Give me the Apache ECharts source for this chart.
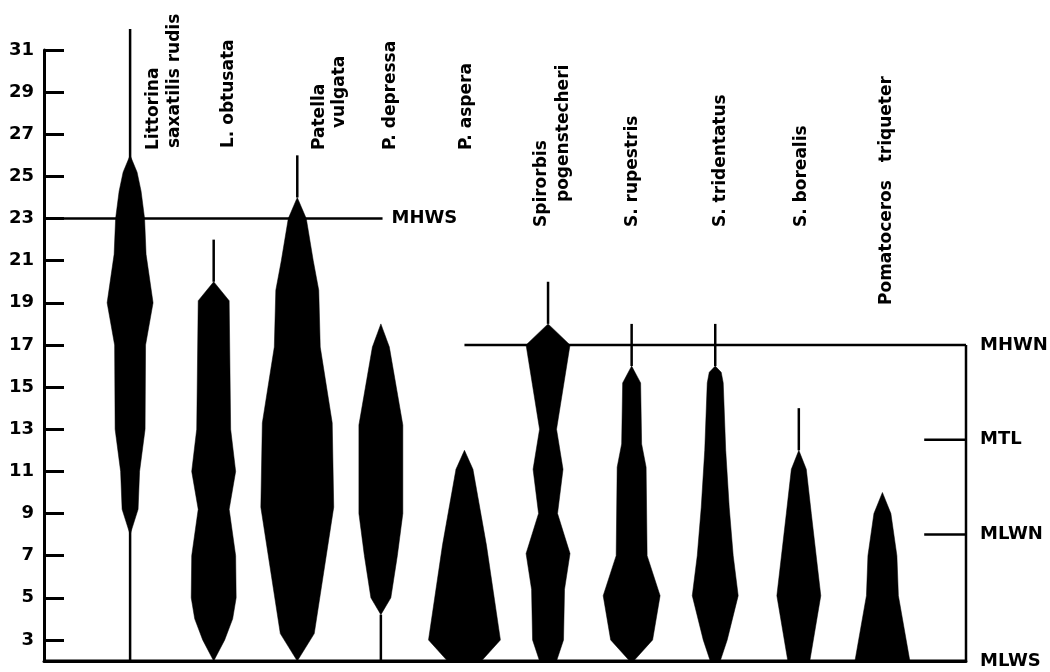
<!DOCTYPE html>
<html><head><meta charset="utf-8">
<script src="https://cdn.jsdelivr.net/npm/echarts@6/dist/echarts.min.js"></script>
<style>html,body{margin:0;padding:0;background:#fff}#c{width:1050px;height:672px}</style>
</head><body><div id="c"></div>
<script>
// Species (left to right)
const species = ['Littorina saxatilis rudis','L. obtusata','Patella vulgata','P. depressa','P. aspera',
  'Spirorbis pogenstecheri','S. rupestris','S. tridentatus','S. borealis','Pomatoceros triqueter'];
// Kite profiles: [tidal level, half-width of kite]
const littorina   = [[8,0],[9.2,8],[11,9.5],[13,15],[17,15.5],[19,23],[21.3,16],[23,14.5],[24.3,11],[25.2,7],[26,0]];
const obtusata    = [[2,0],[3,11],[4,19],[5,22.5],[7,22],[9.2,15.5],[11,22],[13,17],[19.1,15.5],[20,0]];
const patella     = [[2,0],[3.3,17],[9.3,36.5],[13.3,35],[16.9,23],[19.6,21.5],[21,16],[23,9],[24,0]];
const depressa    = [[4.2,0],[5,10],[7,16.5],[9,22],[13.2,22],[16.9,8.5],[18,0]];
const aspera      = [[2,17],[3,36],[7.5,22],[11.1,8.5],[12,0]];
const spirorbis   = [[2,8.5],[3,15.5],[5.4,16.5],[7.1,22],[9,9.5],[11.1,15],[13,8.5],[17,22],[18,0]];
const rupestris   = [[2,2],[3,21],[5.1,28.5],[7,15.5],[11.2,14.5],[12.3,10],[15.2,9],[16,0]];
const tridentatus = [[2,5],[3,12],[5.1,23],[7,18],[9.3,14],[12,10.5],[15.2,8],[15.7,6],[16,0]];
const borealis    = [[2,11],[5.1,22],[9,12.5],[11.1,7.5],[12,0]];
const pomatoceros = [[2,27.5],[5.1,16],[7,14.5],[9,8.5],[10,0]];
const profiles = [littorina, obtusata, patella, depressa, aspera, spirorbis, rupestris, tridentatus, borealis, pomatoceros];
// Vertical range lines (stems): [from level, to level]
const stems = [[2,32],[20,22],[24,26],[2,4.2],null,[18,20],[16,18],[16,18],[12,14],null];
// Tick labels on the level axis
const yTicks = [3,5,7,9,11,13,15,17,19,21,23,25,27,29,31];
// Tide levels
const tideNames  = ['MHWS','MHWN','MTL','MLWN','MLWS'];
const tideLevels = [23,17,12.5,8,2];

// ---- layout / style ----
const XMIN = -1.03, XMAX = 10;
const widthScale = 1/83.7;
const tideSpans = [[XMIN,3.02],[4.0,XMAX],[9.5,XMAX],[9.5,XMAX],[XMIN,XMAX]];
const labelLines = [['Littorina','saxatilis rudis'],['L. obtusata'],['Patella','vulgata'],['P. depressa'],['P. aspera'],
  ['Spirorbis','pogenstecheri'],['S. rupestris'],['S. tridentatus'],['S. borealis'],['Pomatoceros   triqueter']];
const labelLayout = [[[23,150],[44,148]],[[15,148]],[[22,150],[42,128]],[[10,150]],[[2,150]],
  [[-6,227],[16,202]],[[1,227]],[[5,227]],[[3,227]],[[4,305]]];
const FONT = 'DejaVu Sans';

const chart = echarts.init(document.getElementById('c'), null, {renderer:'canvas'});

function renderKite(params, api){
  const i = api.value(0);
  const prof = profiles[i];
  const children = [];
  const st = stems[i];
  if (st){
    const a = api.coord([i, st[0]]), b = api.coord([i, st[1]]);
    children.push({type:'line', shape:{x1:a[0],y1:a[1],x2:b[0],y2:b[1]}, style:{stroke:'#000', lineWidth:2.5}});
  }
  const pts = [];
  for (let k=0;k<prof.length;k++){ pts.push(api.coord([i + prof[k][1]*widthScale, prof[k][0]])); }
  for (let k=prof.length-1;k>=0;k--){ pts.push(api.coord([i - prof[k][1]*widthScale, prof[k][0]])); }
  children.push({type:'polygon', shape:{points:pts}, style:{fill:'#000', stroke:'#000', lineWidth:0.5}});
  return {type:'group', children};
}

const series = [];
tideNames.forEach((n, k) => {
  series.push({
    type:'line', name:n, data:[[tideSpans[k][0], tideLevels[k]],[tideSpans[k][1], tideLevels[k]]],
    symbol:'none', silent:true, z:2,
    lineStyle:{color:'#000', width: k===4 ? 3 : 2.5},
    endLabel:{show:true, formatter:n, distance: k===0 ? 9 : 14, color:'#000', fontFamily:FONT, fontWeight:'bold', fontSize:18}
  });
});
// right frame line
series.push({type:'line', data:[[XMAX,2],[XMAX,tideLevels[1]]], symbol:'none', silent:true, lineStyle:{color:'#000', width:2.5}});
series.push({type:'custom', coordinateSystem:'cartesian2d', data: species.map((s,i)=>[i,0]), encode:{x:0,y:1},
  clip:false, renderItem: renderKite, z:3, silent:true});

chart.setOption({
  animation:false,
  backgroundColor:'#fff',
  grid:{left:44, right:84, top:50, bottom:11, containLabel:false},
  xAxis:{type:'value', min:XMIN, max:XMAX, axisLine:{show:true, onZero:false, lineStyle:{color:'#000', width:3}},
    axisTick:{show:false}, axisLabel:{show:false}, splitLine:{show:false}},
  yAxis:{type:'value', min:2, max:31,
    axisLine:{show:true, onZero:false, lineStyle:{color:'#000', width:3}},
    axisTick:{show:true, inside:true, length:20, lineStyle:{color:'#000', width:3}, customValues:yTicks},
    axisLabel:{customValues:yTicks, color:'#000', fontFamily:FONT, fontWeight:'bold', fontSize:18, margin:10},
    splitLine:{show:false}},
  series
});

const graphics = [];
labelLines.forEach((lines, i) => {
  const cx = chart.convertToPixel({gridIndex:0}, [i, 10])[0];
  lines.forEach((txt, j) => {
    const [dx, y] = labelLayout[i][j];
    graphics.push({type:'text', x: cx + dx, y: y, rotation: Math.PI/2, silent:true,
      style:{text:txt, fill:'#000', font:'bold 17px "DejaVu Sans"', align:'left', verticalAlign:'middle'}});
  });
});
chart.setOption({graphic: graphics});
</script></body></html>
